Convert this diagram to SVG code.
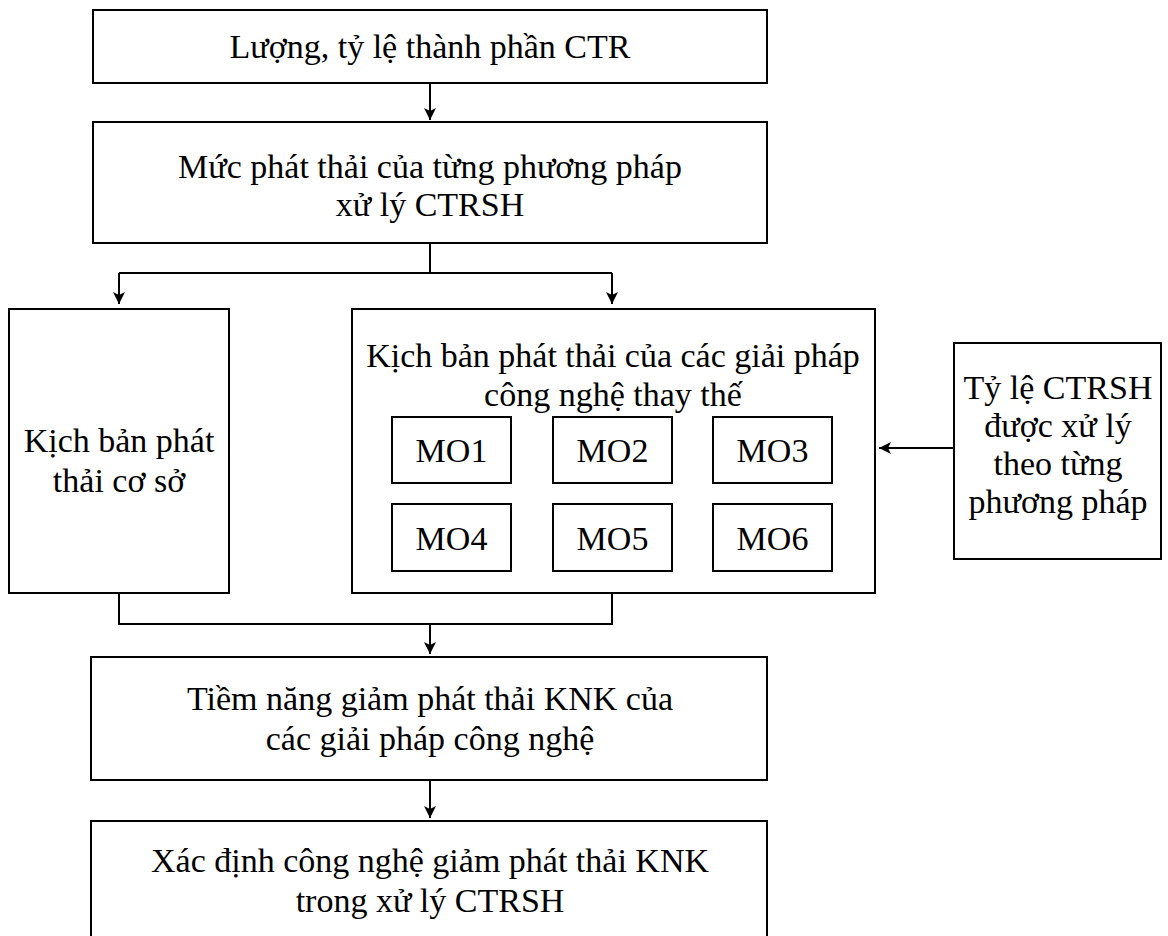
<svg xmlns="http://www.w3.org/2000/svg" width="1168" height="936" viewBox="0 0 1168 936">
  <style>
    .box { fill: #ffffff; stroke: #000000; stroke-width: 2; }
    .lbl { font-family: "Liberation Serif", "Times New Roman", serif; font-size: 34px; fill: #000000; text-anchor: middle; }
    .wire { fill: none; stroke: #000000; stroke-width: 2; }
    .arrow { fill: none; stroke: #000000; stroke-width: 2; marker-end: url(#head); }
  </style>
  <defs>
    <marker id="head" viewBox="0 0 14 14" markerWidth="14" markerHeight="14" refX="13" refY="7" orient="auto" markerUnits="userSpaceOnUse">
      <path d="M1,1 L13,7 L1,13 L4,7 Z" fill="#000000"/>
    </marker>
  </defs>
  <rect width="1168" height="936" fill="#ffffff"/>

  <g id="connectors">
    <line class="arrow" x1="430" y1="83" x2="430" y2="120"/>
    <polyline class="wire" points="430,243 430,273"/>
    <polyline class="wire" points="119,273 612,273"/>
    <line class="arrow" x1="119" y1="273" x2="119" y2="304"/>
    <line class="arrow" x1="612" y1="273" x2="612" y2="304"/>
    <line class="arrow" x1="954" y1="448" x2="879" y2="448"/>
    <polyline class="wire" points="119,593 119,624 612,624 612,593"/>
    <line class="arrow" x1="430" y1="624" x2="430" y2="654"/>
    <line class="arrow" x1="430" y1="780" x2="430" y2="818"/>
  </g>

  <g id="n-luong">
    <rect class="box" x="93" y="10" width="674" height="73"/>
    <text class="lbl" x="430" y="58">Lượng, tỷ lệ thành phần CTR</text>
  </g>

  <g id="n-muc-phat-thai">
    <rect class="box" x="93" y="122" width="674" height="121"/>
    <text class="lbl" x="430" y="178">Mức phát thải của từng phương pháp</text>
    <text class="lbl" x="430" y="216">xử lý CTRSH</text>
  </g>

  <g id="n-co-so">
    <rect class="box" x="9" y="309" width="220" height="284"/>
    <text class="lbl" x="119" y="452">Kịch bản phát</text>
    <text class="lbl" x="119" y="492">thải cơ sở</text>
  </g>

  <g id="n-thay-the">
    <rect class="box" x="352" y="309" width="523" height="284"/>
    <text class="lbl" x="613" y="367">Kịch bản phát thải của các giải pháp</text>
    <text class="lbl" x="613" y="406">công nghệ thay thế</text>
  </g>

  <g id="n-mo1">
    <rect class="box" x="392" y="417" width="119" height="66"/>
    <text class="lbl" x="451.5" y="462">MO1</text>
  </g>
  <g id="n-mo2">
    <rect class="box" x="553" y="417" width="119" height="66"/>
    <text class="lbl" x="612.5" y="462">MO2</text>
  </g>
  <g id="n-mo3">
    <rect class="box" x="713" y="417" width="119" height="66"/>
    <text class="lbl" x="772.5" y="462">MO3</text>
  </g>
  <g id="n-mo4">
    <rect class="box" x="392" y="504" width="119" height="67"/>
    <text class="lbl" x="451.5" y="550">MO4</text>
  </g>
  <g id="n-mo5">
    <rect class="box" x="553" y="504" width="119" height="67"/>
    <text class="lbl" x="612.5" y="550">MO5</text>
  </g>
  <g id="n-mo6">
    <rect class="box" x="713" y="504" width="119" height="67"/>
    <text class="lbl" x="772.5" y="550">MO6</text>
  </g>

  <g id="n-ty-le">
    <rect class="box" x="954" y="343" width="207" height="216"/>
    <text class="lbl" x="1058" y="399">Tỷ lệ CTRSH</text>
    <text class="lbl" x="1058" y="437">được xử lý</text>
    <text class="lbl" x="1058" y="475">theo từng</text>
    <text class="lbl" x="1058" y="513">phương pháp</text>
  </g>

  <g id="n-tiem-nang">
    <rect class="box" x="91" y="657" width="676" height="123"/>
    <text class="lbl" x="430" y="710">Tiềm năng giảm phát thải KNK của</text>
    <text class="lbl" x="430" y="750">các giải pháp công nghệ</text>
  </g>

  <g id="n-xac-dinh">
    <rect class="box" x="91" y="821" width="676" height="125"/>
    <text class="lbl" x="430" y="872">Xác định công nghệ giảm phát thải KNK</text>
    <text class="lbl" x="430" y="912">trong xử lý CTRSH</text>
  </g>
</svg>
